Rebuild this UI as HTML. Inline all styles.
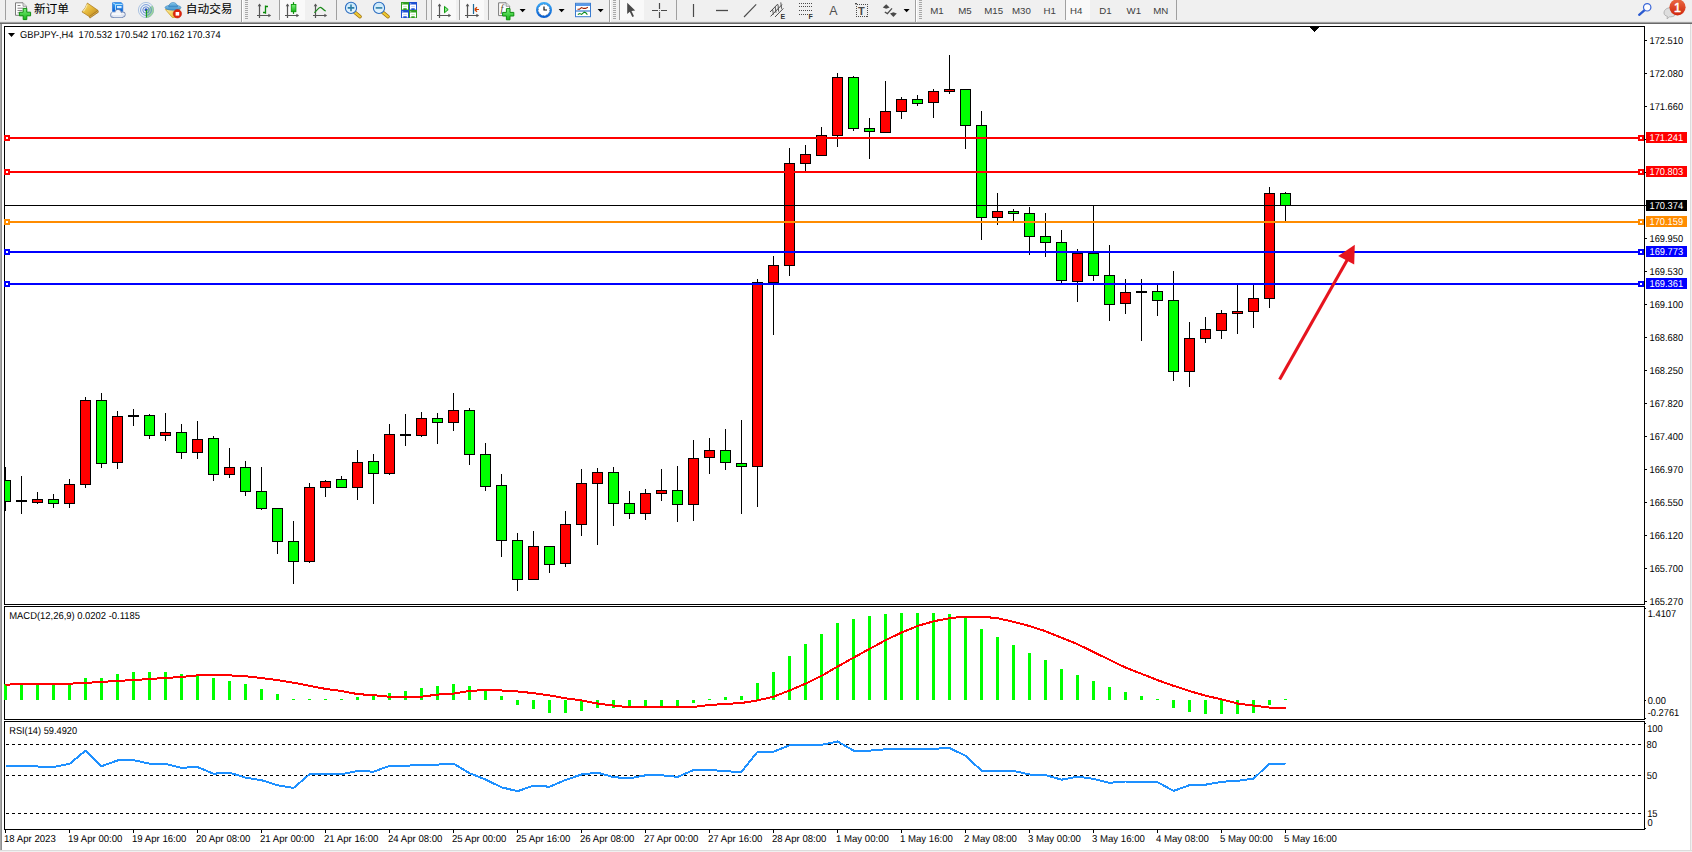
<!DOCTYPE html>
<html><head><meta charset="utf-8"><title>GBPJPY H4</title>
<style>html,body{margin:0;padding:0;background:#fff;overflow:hidden}svg{display:block}</style></head>
<body>
<svg width="1692" height="852" viewBox="0 0 1692 852">
<rect x="0" y="0" width="1692" height="852" fill="#fff"/>
<g shape-rendering="crispEdges">
<rect x="0" y="0" width="1692" height="21" fill="#f0f0f0"/>
<rect x="0" y="21" width="1692" height="1" fill="#e6e6e6"/>
<rect x="0" y="22" width="1692" height="1" fill="#a0a0a0"/>
<rect x="0" y="23" width="1692" height="1" fill="#696969"/>
<rect x="0" y="24" width="1" height="828" fill="#a8a8a8"/>
<rect x="1" y="24" width="1" height="828" fill="#8e8e8e"/>
<rect x="1690" y="24" width="1" height="828" fill="#dcdcdc"/>
<rect x="1691" y="24" width="1" height="828" fill="#f0f0f0"/>
<rect x="0" y="850" width="1692" height="1" fill="#dcdcdc"/>
<rect x="0" y="851" width="1692" height="1" fill="#f0f0f0"/>
</g>
<g shape-rendering="crispEdges">
<rect x="4" y="26" width="1641" height="1" fill="#000"/>
<rect x="4" y="604" width="1641" height="1" fill="#000"/>
<rect x="4" y="26" width="1" height="579" fill="#000"/>
<rect x="1644" y="26" width="1" height="579" fill="#000"/>
<rect x="4" y="606" width="1641" height="1" fill="#000"/>
<rect x="4" y="719" width="1641" height="1" fill="#000"/>
<rect x="4" y="606" width="1" height="114" fill="#000"/>
<rect x="1644" y="606" width="1" height="114" fill="#000"/>
<rect x="4" y="721" width="1641" height="1" fill="#000"/>
<rect x="4" y="829" width="1641" height="1" fill="#000"/>
<rect x="4" y="721" width="1" height="109" fill="#000"/>
<rect x="1644" y="721" width="1" height="109" fill="#000"/>
<clipPath id="cm"><rect x="5" y="27" width="1639" height="577"/></clipPath>
<g clip-path="url(#cm)">
<rect x="5" y="467" width="1" height="44" fill="#000"/>
<rect x="0" y="480" width="11" height="22" fill="#000"/>
<rect x="1" y="481" width="9" height="20" fill="#00ff00"/>
<rect x="21" y="476" width="1" height="38" fill="#000"/>
<rect x="16" y="500" width="11" height="2" fill="#000"/>
<rect x="37" y="492" width="1" height="12" fill="#000"/>
<rect x="32" y="499" width="11" height="4" fill="#000"/>
<rect x="33" y="500" width="9" height="2" fill="#ff0000"/>
<rect x="53" y="494" width="1" height="14" fill="#000"/>
<rect x="48" y="499" width="11" height="5" fill="#000"/>
<rect x="49" y="500" width="9" height="3" fill="#00ff00"/>
<rect x="69" y="479" width="1" height="29" fill="#000"/>
<rect x="64" y="484" width="11" height="20" fill="#000"/>
<rect x="65" y="485" width="9" height="18" fill="#ff0000"/>
<rect x="85" y="397" width="1" height="91" fill="#000"/>
<rect x="80" y="400" width="11" height="85" fill="#000"/>
<rect x="81" y="401" width="9" height="83" fill="#ff0000"/>
<rect x="101" y="393" width="1" height="75" fill="#000"/>
<rect x="96" y="400" width="11" height="64" fill="#000"/>
<rect x="97" y="401" width="9" height="62" fill="#00ff00"/>
<rect x="117" y="411" width="1" height="58" fill="#000"/>
<rect x="112" y="416" width="11" height="47" fill="#000"/>
<rect x="113" y="417" width="9" height="45" fill="#ff0000"/>
<rect x="133" y="409" width="1" height="17" fill="#000"/>
<rect x="128" y="415" width="11" height="2" fill="#000"/>
<rect x="149" y="414" width="1" height="25" fill="#000"/>
<rect x="144" y="415" width="11" height="21" fill="#000"/>
<rect x="145" y="416" width="9" height="19" fill="#00ff00"/>
<rect x="165" y="413" width="1" height="28" fill="#000"/>
<rect x="160" y="432" width="11" height="4" fill="#000"/>
<rect x="161" y="433" width="9" height="2" fill="#ff0000"/>
<rect x="181" y="424" width="1" height="35" fill="#000"/>
<rect x="176" y="432" width="11" height="21" fill="#000"/>
<rect x="177" y="433" width="9" height="19" fill="#00ff00"/>
<rect x="197" y="421" width="1" height="38" fill="#000"/>
<rect x="192" y="439" width="11" height="14" fill="#000"/>
<rect x="193" y="440" width="9" height="12" fill="#ff0000"/>
<rect x="213" y="436" width="1" height="45" fill="#000"/>
<rect x="208" y="438" width="11" height="37" fill="#000"/>
<rect x="209" y="439" width="9" height="35" fill="#00ff00"/>
<rect x="229" y="448" width="1" height="30" fill="#000"/>
<rect x="224" y="467" width="11" height="8" fill="#000"/>
<rect x="225" y="468" width="9" height="6" fill="#ff0000"/>
<rect x="245" y="461" width="1" height="35" fill="#000"/>
<rect x="240" y="467" width="11" height="25" fill="#000"/>
<rect x="241" y="468" width="9" height="23" fill="#00ff00"/>
<rect x="261" y="467" width="1" height="43" fill="#000"/>
<rect x="256" y="491" width="11" height="18" fill="#000"/>
<rect x="257" y="492" width="9" height="16" fill="#00ff00"/>
<rect x="277" y="508" width="1" height="46" fill="#000"/>
<rect x="272" y="508" width="11" height="34" fill="#000"/>
<rect x="273" y="509" width="9" height="32" fill="#00ff00"/>
<rect x="293" y="521" width="1" height="63" fill="#000"/>
<rect x="288" y="541" width="11" height="21" fill="#000"/>
<rect x="289" y="542" width="9" height="19" fill="#00ff00"/>
<rect x="309" y="483" width="1" height="80" fill="#000"/>
<rect x="304" y="487" width="11" height="75" fill="#000"/>
<rect x="305" y="488" width="9" height="73" fill="#ff0000"/>
<rect x="325" y="480" width="1" height="17" fill="#000"/>
<rect x="320" y="481" width="11" height="7" fill="#000"/>
<rect x="321" y="482" width="9" height="5" fill="#ff0000"/>
<rect x="341" y="476" width="1" height="12" fill="#000"/>
<rect x="336" y="479" width="11" height="9" fill="#000"/>
<rect x="337" y="480" width="9" height="7" fill="#00ff00"/>
<rect x="357" y="450" width="1" height="50" fill="#000"/>
<rect x="352" y="462" width="11" height="26" fill="#000"/>
<rect x="353" y="463" width="9" height="24" fill="#ff0000"/>
<rect x="373" y="454" width="1" height="50" fill="#000"/>
<rect x="368" y="461" width="11" height="13" fill="#000"/>
<rect x="369" y="462" width="9" height="11" fill="#00ff00"/>
<rect x="389" y="424" width="1" height="51" fill="#000"/>
<rect x="384" y="434" width="11" height="40" fill="#000"/>
<rect x="385" y="435" width="9" height="38" fill="#ff0000"/>
<rect x="405" y="414" width="1" height="32" fill="#000"/>
<rect x="400" y="434" width="11" height="2" fill="#000"/>
<rect x="421" y="412" width="1" height="25" fill="#000"/>
<rect x="416" y="418" width="11" height="18" fill="#000"/>
<rect x="417" y="419" width="9" height="16" fill="#ff0000"/>
<rect x="437" y="413" width="1" height="31" fill="#000"/>
<rect x="432" y="418" width="11" height="5" fill="#000"/>
<rect x="433" y="419" width="9" height="3" fill="#00ff00"/>
<rect x="453" y="393" width="1" height="38" fill="#000"/>
<rect x="448" y="410" width="11" height="13" fill="#000"/>
<rect x="449" y="411" width="9" height="11" fill="#ff0000"/>
<rect x="469" y="408" width="1" height="57" fill="#000"/>
<rect x="464" y="410" width="11" height="45" fill="#000"/>
<rect x="465" y="411" width="9" height="43" fill="#00ff00"/>
<rect x="485" y="443" width="1" height="48" fill="#000"/>
<rect x="480" y="454" width="11" height="33" fill="#000"/>
<rect x="481" y="455" width="9" height="31" fill="#00ff00"/>
<rect x="501" y="474" width="1" height="83" fill="#000"/>
<rect x="496" y="485" width="11" height="56" fill="#000"/>
<rect x="497" y="486" width="9" height="54" fill="#00ff00"/>
<rect x="517" y="533" width="1" height="58" fill="#000"/>
<rect x="512" y="540" width="11" height="40" fill="#000"/>
<rect x="513" y="541" width="9" height="38" fill="#00ff00"/>
<rect x="533" y="531" width="1" height="49" fill="#000"/>
<rect x="528" y="546" width="11" height="34" fill="#000"/>
<rect x="529" y="547" width="9" height="32" fill="#ff0000"/>
<rect x="549" y="546" width="1" height="27" fill="#000"/>
<rect x="544" y="546" width="11" height="19" fill="#000"/>
<rect x="545" y="547" width="9" height="17" fill="#00ff00"/>
<rect x="565" y="511" width="1" height="56" fill="#000"/>
<rect x="560" y="524" width="11" height="40" fill="#000"/>
<rect x="561" y="525" width="9" height="38" fill="#ff0000"/>
<rect x="581" y="469" width="1" height="67" fill="#000"/>
<rect x="576" y="483" width="11" height="42" fill="#000"/>
<rect x="577" y="484" width="9" height="40" fill="#ff0000"/>
<rect x="597" y="468" width="1" height="77" fill="#000"/>
<rect x="592" y="472" width="11" height="12" fill="#000"/>
<rect x="593" y="473" width="9" height="10" fill="#ff0000"/>
<rect x="613" y="467" width="1" height="59" fill="#000"/>
<rect x="608" y="472" width="11" height="32" fill="#000"/>
<rect x="609" y="473" width="9" height="30" fill="#00ff00"/>
<rect x="629" y="491" width="1" height="28" fill="#000"/>
<rect x="624" y="503" width="11" height="11" fill="#000"/>
<rect x="625" y="504" width="9" height="9" fill="#00ff00"/>
<rect x="645" y="489" width="1" height="31" fill="#000"/>
<rect x="640" y="493" width="11" height="21" fill="#000"/>
<rect x="641" y="494" width="9" height="19" fill="#ff0000"/>
<rect x="661" y="469" width="1" height="32" fill="#000"/>
<rect x="656" y="490" width="11" height="4" fill="#000"/>
<rect x="657" y="491" width="9" height="2" fill="#ff0000"/>
<rect x="677" y="466" width="1" height="56" fill="#000"/>
<rect x="672" y="490" width="11" height="15" fill="#000"/>
<rect x="673" y="491" width="9" height="13" fill="#00ff00"/>
<rect x="693" y="440" width="1" height="81" fill="#000"/>
<rect x="688" y="458" width="11" height="47" fill="#000"/>
<rect x="689" y="459" width="9" height="45" fill="#ff0000"/>
<rect x="709" y="438" width="1" height="36" fill="#000"/>
<rect x="704" y="450" width="11" height="8" fill="#000"/>
<rect x="705" y="451" width="9" height="6" fill="#ff0000"/>
<rect x="725" y="429" width="1" height="41" fill="#000"/>
<rect x="720" y="450" width="11" height="13" fill="#000"/>
<rect x="721" y="451" width="9" height="11" fill="#00ff00"/>
<rect x="741" y="420" width="1" height="94" fill="#000"/>
<rect x="736" y="463" width="11" height="4" fill="#000"/>
<rect x="737" y="464" width="9" height="2" fill="#00ff00"/>
<rect x="757" y="279" width="1" height="228" fill="#000"/>
<rect x="752" y="282" width="11" height="185" fill="#000"/>
<rect x="753" y="283" width="9" height="183" fill="#ff0000"/>
<rect x="773" y="256" width="1" height="79" fill="#000"/>
<rect x="768" y="265" width="11" height="18" fill="#000"/>
<rect x="769" y="266" width="9" height="16" fill="#ff0000"/>
<rect x="789" y="148" width="1" height="128" fill="#000"/>
<rect x="784" y="163" width="11" height="103" fill="#000"/>
<rect x="785" y="164" width="9" height="101" fill="#ff0000"/>
<rect x="805" y="145" width="1" height="26" fill="#000"/>
<rect x="800" y="154" width="11" height="10" fill="#000"/>
<rect x="801" y="155" width="9" height="8" fill="#ff0000"/>
<rect x="821" y="127" width="1" height="29" fill="#000"/>
<rect x="816" y="135" width="11" height="21" fill="#000"/>
<rect x="817" y="136" width="9" height="19" fill="#ff0000"/>
<rect x="837" y="73" width="1" height="74" fill="#000"/>
<rect x="832" y="77" width="11" height="59" fill="#000"/>
<rect x="833" y="78" width="9" height="57" fill="#ff0000"/>
<rect x="853" y="76" width="1" height="55" fill="#000"/>
<rect x="848" y="77" width="11" height="52" fill="#000"/>
<rect x="849" y="78" width="9" height="50" fill="#00ff00"/>
<rect x="869" y="118" width="1" height="41" fill="#000"/>
<rect x="864" y="128" width="11" height="4" fill="#000"/>
<rect x="865" y="129" width="9" height="2" fill="#00ff00"/>
<rect x="885" y="81" width="1" height="52" fill="#000"/>
<rect x="880" y="111" width="11" height="22" fill="#000"/>
<rect x="881" y="112" width="9" height="20" fill="#ff0000"/>
<rect x="901" y="97" width="1" height="22" fill="#000"/>
<rect x="896" y="99" width="11" height="13" fill="#000"/>
<rect x="897" y="100" width="9" height="11" fill="#ff0000"/>
<rect x="917" y="95" width="1" height="11" fill="#000"/>
<rect x="912" y="99" width="11" height="5" fill="#000"/>
<rect x="913" y="100" width="9" height="3" fill="#00ff00"/>
<rect x="933" y="89" width="1" height="29" fill="#000"/>
<rect x="928" y="91" width="11" height="12" fill="#000"/>
<rect x="929" y="92" width="9" height="10" fill="#ff0000"/>
<rect x="949" y="55" width="1" height="39" fill="#000"/>
<rect x="944" y="89" width="11" height="3" fill="#000"/>
<rect x="945" y="90" width="9" height="1" fill="#ff0000"/>
<rect x="965" y="89" width="1" height="60" fill="#000"/>
<rect x="960" y="89" width="11" height="37" fill="#000"/>
<rect x="961" y="90" width="9" height="35" fill="#00ff00"/>
<rect x="981" y="111" width="1" height="129" fill="#000"/>
<rect x="976" y="125" width="11" height="93" fill="#000"/>
<rect x="977" y="126" width="9" height="91" fill="#00ff00"/>
<rect x="997" y="193" width="1" height="32" fill="#000"/>
<rect x="992" y="211" width="11" height="7" fill="#000"/>
<rect x="993" y="212" width="9" height="5" fill="#ff0000"/>
<rect x="1013" y="209" width="1" height="12" fill="#000"/>
<rect x="1008" y="211" width="11" height="3" fill="#000"/>
<rect x="1009" y="212" width="9" height="1" fill="#00ff00"/>
<rect x="1029" y="207" width="1" height="48" fill="#000"/>
<rect x="1024" y="213" width="11" height="24" fill="#000"/>
<rect x="1025" y="214" width="9" height="22" fill="#00ff00"/>
<rect x="1045" y="213" width="1" height="44" fill="#000"/>
<rect x="1040" y="236" width="11" height="7" fill="#000"/>
<rect x="1041" y="237" width="9" height="5" fill="#00ff00"/>
<rect x="1061" y="230" width="1" height="53" fill="#000"/>
<rect x="1056" y="242" width="11" height="39" fill="#000"/>
<rect x="1057" y="243" width="9" height="37" fill="#00ff00"/>
<rect x="1077" y="249" width="1" height="53" fill="#000"/>
<rect x="1072" y="253" width="11" height="29" fill="#000"/>
<rect x="1073" y="254" width="9" height="27" fill="#ff0000"/>
<rect x="1093" y="205" width="1" height="76" fill="#000"/>
<rect x="1088" y="253" width="11" height="23" fill="#000"/>
<rect x="1089" y="254" width="9" height="21" fill="#00ff00"/>
<rect x="1109" y="245" width="1" height="76" fill="#000"/>
<rect x="1104" y="275" width="11" height="30" fill="#000"/>
<rect x="1105" y="276" width="9" height="28" fill="#00ff00"/>
<rect x="1125" y="279" width="1" height="35" fill="#000"/>
<rect x="1120" y="292" width="11" height="12" fill="#000"/>
<rect x="1121" y="293" width="9" height="10" fill="#ff0000"/>
<rect x="1141" y="279" width="1" height="62" fill="#000"/>
<rect x="1136" y="291" width="11" height="2" fill="#000"/>
<rect x="1157" y="285" width="1" height="31" fill="#000"/>
<rect x="1152" y="291" width="11" height="10" fill="#000"/>
<rect x="1153" y="292" width="9" height="8" fill="#00ff00"/>
<rect x="1173" y="271" width="1" height="110" fill="#000"/>
<rect x="1168" y="300" width="11" height="72" fill="#000"/>
<rect x="1169" y="301" width="9" height="70" fill="#00ff00"/>
<rect x="1189" y="322" width="1" height="65" fill="#000"/>
<rect x="1184" y="338" width="11" height="34" fill="#000"/>
<rect x="1185" y="339" width="9" height="32" fill="#ff0000"/>
<rect x="1205" y="317" width="1" height="26" fill="#000"/>
<rect x="1200" y="329" width="11" height="10" fill="#000"/>
<rect x="1201" y="330" width="9" height="8" fill="#ff0000"/>
<rect x="1221" y="310" width="1" height="29" fill="#000"/>
<rect x="1216" y="313" width="11" height="18" fill="#000"/>
<rect x="1217" y="314" width="9" height="16" fill="#ff0000"/>
<rect x="1237" y="285" width="1" height="49" fill="#000"/>
<rect x="1232" y="311" width="11" height="3" fill="#000"/>
<rect x="1233" y="312" width="9" height="1" fill="#ff0000"/>
<rect x="1253" y="285" width="1" height="43" fill="#000"/>
<rect x="1248" y="298" width="11" height="14" fill="#000"/>
<rect x="1249" y="299" width="9" height="12" fill="#ff0000"/>
<rect x="1269" y="187" width="1" height="121" fill="#000"/>
<rect x="1264" y="193" width="11" height="106" fill="#000"/>
<rect x="1265" y="194" width="9" height="104" fill="#ff0000"/>
<rect x="1285" y="192" width="1" height="29" fill="#000"/>
<rect x="1280" y="193" width="11" height="13" fill="#000"/>
<rect x="1281" y="194" width="9" height="11" fill="#00ff00"/>
</g>
<rect x="5" y="205" width="1639" height="1" fill="#000"/>
<rect x="5" y="137" width="1639" height="2" fill="#ff0000"/>
<rect x="4" y="135" width="6" height="6" fill="#ff0000"/>
<rect x="6" y="137" width="2" height="2" fill="#fff"/>
<rect x="1638" y="135" width="6" height="6" fill="#ff0000"/>
<rect x="1640" y="137" width="2" height="2" fill="#fff"/>
<rect x="5" y="171" width="1639" height="2" fill="#ff0000"/>
<rect x="4" y="169" width="6" height="6" fill="#ff0000"/>
<rect x="6" y="171" width="2" height="2" fill="#fff"/>
<rect x="1638" y="169" width="6" height="6" fill="#ff0000"/>
<rect x="1640" y="171" width="2" height="2" fill="#fff"/>
<rect x="5" y="221" width="1639" height="2" fill="#ff8c00"/>
<rect x="4" y="219" width="6" height="6" fill="#ff8c00"/>
<rect x="6" y="221" width="2" height="2" fill="#fff"/>
<rect x="1638" y="219" width="6" height="6" fill="#ff8c00"/>
<rect x="1640" y="221" width="2" height="2" fill="#fff"/>
<rect x="5" y="251" width="1639" height="2" fill="#0000ff"/>
<rect x="4" y="249" width="6" height="6" fill="#0000ff"/>
<rect x="6" y="251" width="2" height="2" fill="#fff"/>
<rect x="1638" y="249" width="6" height="6" fill="#0000ff"/>
<rect x="1640" y="251" width="2" height="2" fill="#fff"/>
<rect x="5" y="283" width="1639" height="2" fill="#0000ff"/>
<rect x="4" y="281" width="6" height="6" fill="#0000ff"/>
<rect x="6" y="283" width="2" height="2" fill="#fff"/>
<rect x="1638" y="281" width="6" height="6" fill="#0000ff"/>
<rect x="1640" y="283" width="2" height="2" fill="#fff"/>
<rect x="1645" y="40" width="2" height="1" fill="#000"/>
<rect x="1645" y="73" width="2" height="1" fill="#000"/>
<rect x="1645" y="106" width="2" height="1" fill="#000"/>
<rect x="1645" y="139" width="2" height="1" fill="#000"/>
<rect x="1645" y="172" width="2" height="1" fill="#000"/>
<rect x="1645" y="205" width="2" height="1" fill="#000"/>
<rect x="1645" y="238" width="2" height="1" fill="#000"/>
<rect x="1645" y="271" width="2" height="1" fill="#000"/>
<rect x="1645" y="304" width="2" height="1" fill="#000"/>
<rect x="1645" y="337" width="2" height="1" fill="#000"/>
<rect x="1645" y="370" width="2" height="1" fill="#000"/>
<rect x="1645" y="403" width="2" height="1" fill="#000"/>
<rect x="1645" y="436" width="2" height="1" fill="#000"/>
<rect x="1645" y="469" width="2" height="1" fill="#000"/>
<rect x="1645" y="502" width="2" height="1" fill="#000"/>
<rect x="1645" y="535" width="2" height="1" fill="#000"/>
<rect x="1645" y="568" width="2" height="1" fill="#000"/>
<rect x="1645" y="601" width="2" height="1" fill="#000"/>
<rect x="1645" y="608" width="1" height="1" fill="#000"/>
<rect x="1645" y="700" width="1" height="1" fill="#000"/>
<rect x="1645" y="718" width="1" height="1" fill="#000"/>
<rect x="1645" y="723" width="1" height="1" fill="#000"/>
<rect x="1645" y="828" width="1" height="1" fill="#000"/>
<rect x="1646" y="132" width="41" height="11" fill="#ff0000"/>
<rect x="1646" y="166" width="41" height="11" fill="#ff0000"/>
<rect x="1646" y="216" width="41" height="11" fill="#ff8c00"/>
<rect x="1646" y="246" width="41" height="11" fill="#0000ff"/>
<rect x="1646" y="278" width="41" height="11" fill="#0000ff"/>
<rect x="1646" y="200" width="41" height="11" fill="#000"/>
<rect x="4" y="684" width="3" height="16" fill="#00ff00"/>
<rect x="20" y="684" width="3" height="16" fill="#00ff00"/>
<rect x="36" y="685" width="3" height="15" fill="#00ff00"/>
<rect x="52" y="685" width="3" height="15" fill="#00ff00"/>
<rect x="68" y="685" width="3" height="15" fill="#00ff00"/>
<rect x="84" y="678" width="3" height="22" fill="#00ff00"/>
<rect x="100" y="678" width="3" height="22" fill="#00ff00"/>
<rect x="116" y="674" width="3" height="26" fill="#00ff00"/>
<rect x="132" y="672" width="3" height="28" fill="#00ff00"/>
<rect x="148" y="672" width="3" height="28" fill="#00ff00"/>
<rect x="164" y="672" width="3" height="28" fill="#00ff00"/>
<rect x="180" y="674" width="3" height="26" fill="#00ff00"/>
<rect x="196" y="676" width="3" height="24" fill="#00ff00"/>
<rect x="212" y="678" width="3" height="22" fill="#00ff00"/>
<rect x="228" y="681" width="3" height="19" fill="#00ff00"/>
<rect x="244" y="684" width="3" height="16" fill="#00ff00"/>
<rect x="260" y="689" width="3" height="11" fill="#00ff00"/>
<rect x="276" y="694" width="3" height="6" fill="#00ff00"/>
<rect x="292" y="699" width="3" height="1" fill="#00ff00"/>
<rect x="308" y="699" width="3" height="1" fill="#00ff00"/>
<rect x="324" y="699" width="3" height="1" fill="#00ff00"/>
<rect x="340" y="699" width="3" height="1" fill="#00ff00"/>
<rect x="356" y="697" width="3" height="3" fill="#00ff00"/>
<rect x="372" y="696" width="3" height="4" fill="#00ff00"/>
<rect x="388" y="693" width="3" height="7" fill="#00ff00"/>
<rect x="404" y="691" width="3" height="9" fill="#00ff00"/>
<rect x="420" y="688" width="3" height="12" fill="#00ff00"/>
<rect x="436" y="686" width="3" height="14" fill="#00ff00"/>
<rect x="452" y="684" width="3" height="16" fill="#00ff00"/>
<rect x="468" y="686" width="3" height="14" fill="#00ff00"/>
<rect x="484" y="689" width="3" height="11" fill="#00ff00"/>
<rect x="500" y="696" width="3" height="4" fill="#00ff00"/>
<rect x="516" y="700" width="3" height="5" fill="#00ff00"/>
<rect x="532" y="700" width="3" height="9" fill="#00ff00"/>
<rect x="548" y="700" width="3" height="13" fill="#00ff00"/>
<rect x="564" y="700" width="3" height="13" fill="#00ff00"/>
<rect x="580" y="700" width="3" height="11" fill="#00ff00"/>
<rect x="596" y="700" width="3" height="8" fill="#00ff00"/>
<rect x="612" y="700" width="3" height="8" fill="#00ff00"/>
<rect x="628" y="700" width="3" height="7" fill="#00ff00"/>
<rect x="644" y="700" width="3" height="7" fill="#00ff00"/>
<rect x="660" y="700" width="3" height="6" fill="#00ff00"/>
<rect x="676" y="700" width="3" height="6" fill="#00ff00"/>
<rect x="692" y="700" width="3" height="3" fill="#00ff00"/>
<rect x="708" y="699" width="3" height="1" fill="#00ff00"/>
<rect x="724" y="697" width="3" height="3" fill="#00ff00"/>
<rect x="740" y="696" width="3" height="4" fill="#00ff00"/>
<rect x="756" y="683" width="3" height="17" fill="#00ff00"/>
<rect x="772" y="672" width="3" height="28" fill="#00ff00"/>
<rect x="788" y="656" width="3" height="44" fill="#00ff00"/>
<rect x="804" y="644" width="3" height="56" fill="#00ff00"/>
<rect x="820" y="634" width="3" height="66" fill="#00ff00"/>
<rect x="836" y="623" width="3" height="77" fill="#00ff00"/>
<rect x="852" y="619" width="3" height="81" fill="#00ff00"/>
<rect x="868" y="616" width="3" height="84" fill="#00ff00"/>
<rect x="884" y="614" width="3" height="86" fill="#00ff00"/>
<rect x="900" y="613" width="3" height="87" fill="#00ff00"/>
<rect x="916" y="613" width="3" height="87" fill="#00ff00"/>
<rect x="932" y="613" width="3" height="87" fill="#00ff00"/>
<rect x="948" y="614" width="3" height="86" fill="#00ff00"/>
<rect x="964" y="618" width="3" height="82" fill="#00ff00"/>
<rect x="980" y="629" width="3" height="71" fill="#00ff00"/>
<rect x="996" y="637" width="3" height="63" fill="#00ff00"/>
<rect x="1012" y="645" width="3" height="55" fill="#00ff00"/>
<rect x="1028" y="653" width="3" height="47" fill="#00ff00"/>
<rect x="1044" y="660" width="3" height="40" fill="#00ff00"/>
<rect x="1060" y="669" width="3" height="31" fill="#00ff00"/>
<rect x="1076" y="675" width="3" height="25" fill="#00ff00"/>
<rect x="1092" y="681" width="3" height="19" fill="#00ff00"/>
<rect x="1108" y="687" width="3" height="13" fill="#00ff00"/>
<rect x="1124" y="692" width="3" height="8" fill="#00ff00"/>
<rect x="1140" y="696" width="3" height="4" fill="#00ff00"/>
<rect x="1156" y="699" width="3" height="1" fill="#00ff00"/>
<rect x="1172" y="700" width="3" height="8" fill="#00ff00"/>
<rect x="1188" y="700" width="3" height="12" fill="#00ff00"/>
<rect x="1204" y="700" width="3" height="14" fill="#00ff00"/>
<rect x="1220" y="700" width="3" height="14" fill="#00ff00"/>
<rect x="1236" y="700" width="3" height="14" fill="#00ff00"/>
<rect x="1252" y="700" width="3" height="13" fill="#00ff00"/>
<rect x="1268" y="700" width="3" height="5" fill="#00ff00"/>
<rect x="1284" y="699" width="3" height="1" fill="#00ff00"/>
<polyline points="5.5,684.8 21.5,683.7 37.5,683.7 53.5,683.7 69.5,683.7 85.5,682.9 101.5,681.9 117.5,680.9 133.5,680.1 149.5,679.0 165.5,678.0 181.5,677.0 197.5,675.4 213.5,674.9 229.5,675.4 245.5,676.2 261.5,678.0 277.5,680.1 293.5,682.7 309.5,685.8 325.5,688.9 341.5,691.0 357.5,694.1 373.5,695.2 389.5,696.7 405.5,696.7 421.5,696.7 437.5,694.6 453.5,693.6 469.5,691.0 485.5,690.0 501.5,690.5 517.5,691.5 533.5,693.1 549.5,695.4 565.5,698.3 581.5,700.4 597.5,703.5 613.5,705.6 629.5,707.4 645.5,707.4 661.5,707.4 677.5,707.4 693.5,706.9 709.5,705.0 725.5,704.0 741.5,703.0 757.5,700.4 773.5,696.7 789.5,690.5 805.5,683.7 821.5,675.9 837.5,666.6 853.5,657.7 869.5,648.9 885.5,640.3 901.5,632.5 917.5,626.0 933.5,621.3 949.5,618.2 965.5,616.6 981.5,616.6 997.5,618.2 1013.5,621.8 1029.5,626.0 1045.5,631.2 1061.5,637.7 1077.5,644.2 1093.5,652.0 1109.5,659.8 1125.5,667.6 1141.5,673.8 1157.5,680.1 1173.5,685.8 1189.5,691.0 1205.5,695.7 1221.5,699.3 1237.5,703.5 1253.5,705.6 1269.5,707.6 1285.5,707.6" fill="none" stroke="#ff0000" stroke-width="2" stroke-linejoin="round"/>
<line x1="6" y1="744.5" x2="1644" y2="744.5" stroke="#000" stroke-width="1" stroke-dasharray="3 3"/>
<line x1="6" y1="775.5" x2="1644" y2="775.5" stroke="#000" stroke-width="1" stroke-dasharray="3 3"/>
<line x1="6" y1="813.5" x2="1644" y2="813.5" stroke="#000" stroke-width="1" stroke-dasharray="3 3"/>
<polyline points="5.5,765.9 21.5,765.9 37.5,766.5 53.5,767.0 69.5,763.9 85.5,750.6 101.5,766.2 117.5,760.5 133.5,760.2 149.5,763.6 165.5,763.9 181.5,767.8 197.5,767.0 213.5,773.7 229.5,772.7 245.5,777.6 261.5,780.2 277.5,785.2 293.5,788.0 309.5,774.3 325.5,774.3 341.5,774.3 357.5,770.9 373.5,771.7 389.5,765.9 405.5,765.9 421.5,764.6 437.5,764.6 453.5,763.6 469.5,773.2 485.5,779.5 501.5,787.3 517.5,791.2 533.5,785.7 549.5,786.7 565.5,780.0 581.5,774.5 597.5,772.7 613.5,777.1 629.5,778.4 645.5,775.3 661.5,775.3 677.5,776.9 693.5,770.1 709.5,769.8 725.5,771.4 741.5,771.7 757.5,751.9 773.5,751.7 789.5,745.4 805.5,745.2 821.5,744.9 837.5,741.5 853.5,750.6 869.5,750.6 885.5,749.3 901.5,748.8 917.5,748.8 933.5,748.8 949.5,748.0 965.5,755.8 981.5,770.6 997.5,770.6 1013.5,770.9 1029.5,774.5 1045.5,775.0 1061.5,779.7 1077.5,776.6 1093.5,778.9 1109.5,782.8 1125.5,781.5 1141.5,781.8 1157.5,782.1 1173.5,790.9 1189.5,785.2 1205.5,784.7 1221.5,781.8 1237.5,780.8 1253.5,778.7 1269.5,763.6 1285.5,764.4" fill="none" stroke="#1e90ff" stroke-width="2" stroke-linejoin="round"/>
<rect x="5" y="830" width="1" height="3" fill="#000"/>
<rect x="69" y="830" width="1" height="3" fill="#000"/>
<rect x="133" y="830" width="1" height="3" fill="#000"/>
<rect x="197" y="830" width="1" height="3" fill="#000"/>
<rect x="261" y="830" width="1" height="3" fill="#000"/>
<rect x="325" y="830" width="1" height="3" fill="#000"/>
<rect x="389" y="830" width="1" height="3" fill="#000"/>
<rect x="453" y="830" width="1" height="3" fill="#000"/>
<rect x="517" y="830" width="1" height="3" fill="#000"/>
<rect x="581" y="830" width="1" height="3" fill="#000"/>
<rect x="645" y="830" width="1" height="3" fill="#000"/>
<rect x="709" y="830" width="1" height="3" fill="#000"/>
<rect x="773" y="830" width="1" height="3" fill="#000"/>
<rect x="837" y="830" width="1" height="3" fill="#000"/>
<rect x="901" y="830" width="1" height="3" fill="#000"/>
<rect x="965" y="830" width="1" height="3" fill="#000"/>
<rect x="1029" y="830" width="1" height="3" fill="#000"/>
<rect x="1093" y="830" width="1" height="3" fill="#000"/>
<rect x="1157" y="830" width="1" height="3" fill="#000"/>
<rect x="1221" y="830" width="1" height="3" fill="#000"/>
<rect x="1285" y="830" width="1" height="3" fill="#000"/>
<polygon points="1309.5,27 1319.5,27 1314.5,32" fill="#000"/>
</g>
<polygon points="8,33 15,33 11.5,37" fill="#000"/>
<line x1="1279.6" y1="379.6" x2="1348.3" y2="258" stroke="#e6141e" stroke-width="3.1"/>
<polygon points="1354.8,244.8 1338.2,255.9 1354.2,264.6" fill="#e6141e"/>
<text transform="translate(20,37.8) scale(0.9290,1)" font-size="10.0" text-rendering="geometricPrecision" fill="#000" font-family="Liberation Sans, sans-serif" >GBPJPY-,H4&#160;&#160;170.532 170.542 170.162 170.374</text>
<text transform="translate(9.2,619) scale(0.9420,1)" font-size="10.0" text-rendering="geometricPrecision" fill="#000" font-family="Liberation Sans, sans-serif" >MACD(12,26,9) 0.0202 -0.1185</text>
<text transform="translate(9.2,734) scale(0.9250,1)" font-size="10.0" text-rendering="geometricPrecision" fill="#000" font-family="Liberation Sans, sans-serif" >RSI(14) 59.4920</text>
<text transform="translate(1649.5,43.9) scale(0.9300,1)" font-size="10.0" text-rendering="geometricPrecision" fill="#000" font-family="Liberation Sans, sans-serif" >172.510</text>
<text transform="translate(1649.5,76.9) scale(0.9300,1)" font-size="10.0" text-rendering="geometricPrecision" fill="#000" font-family="Liberation Sans, sans-serif" >172.080</text>
<text transform="translate(1649.5,109.9) scale(0.9300,1)" font-size="10.0" text-rendering="geometricPrecision" fill="#000" font-family="Liberation Sans, sans-serif" >171.660</text>
<text transform="translate(1649.5,241.9) scale(0.9300,1)" font-size="10.0" text-rendering="geometricPrecision" fill="#000" font-family="Liberation Sans, sans-serif" >169.950</text>
<text transform="translate(1649.5,274.9) scale(0.9300,1)" font-size="10.0" text-rendering="geometricPrecision" fill="#000" font-family="Liberation Sans, sans-serif" >169.530</text>
<text transform="translate(1649.5,307.9) scale(0.9300,1)" font-size="10.0" text-rendering="geometricPrecision" fill="#000" font-family="Liberation Sans, sans-serif" >169.100</text>
<text transform="translate(1649.5,340.9) scale(0.9300,1)" font-size="10.0" text-rendering="geometricPrecision" fill="#000" font-family="Liberation Sans, sans-serif" >168.680</text>
<text transform="translate(1649.5,373.9) scale(0.9300,1)" font-size="10.0" text-rendering="geometricPrecision" fill="#000" font-family="Liberation Sans, sans-serif" >168.250</text>
<text transform="translate(1649.5,406.9) scale(0.9300,1)" font-size="10.0" text-rendering="geometricPrecision" fill="#000" font-family="Liberation Sans, sans-serif" >167.820</text>
<text transform="translate(1649.5,439.9) scale(0.9300,1)" font-size="10.0" text-rendering="geometricPrecision" fill="#000" font-family="Liberation Sans, sans-serif" >167.400</text>
<text transform="translate(1649.5,472.9) scale(0.9300,1)" font-size="10.0" text-rendering="geometricPrecision" fill="#000" font-family="Liberation Sans, sans-serif" >166.970</text>
<text transform="translate(1649.5,505.9) scale(0.9300,1)" font-size="10.0" text-rendering="geometricPrecision" fill="#000" font-family="Liberation Sans, sans-serif" >166.550</text>
<text transform="translate(1649.5,538.9) scale(0.9300,1)" font-size="10.0" text-rendering="geometricPrecision" fill="#000" font-family="Liberation Sans, sans-serif" >166.120</text>
<text transform="translate(1649.5,571.9) scale(0.9300,1)" font-size="10.0" text-rendering="geometricPrecision" fill="#000" font-family="Liberation Sans, sans-serif" >165.700</text>
<text transform="translate(1649.5,604.9) scale(0.9300,1)" font-size="10.0" text-rendering="geometricPrecision" fill="#000" font-family="Liberation Sans, sans-serif" >165.270</text>
<text transform="translate(1649.5,140.8) scale(0.9300,1)" font-size="10.0" text-rendering="geometricPrecision" fill="#fff" font-family="Liberation Sans, sans-serif" >171.241</text>
<text transform="translate(1649.5,174.8) scale(0.9300,1)" font-size="10.0" text-rendering="geometricPrecision" fill="#fff" font-family="Liberation Sans, sans-serif" >170.803</text>
<text transform="translate(1649.5,224.8) scale(0.9300,1)" font-size="10.0" text-rendering="geometricPrecision" fill="#fff" font-family="Liberation Sans, sans-serif" >170.159</text>
<text transform="translate(1649.5,254.8) scale(0.9300,1)" font-size="10.0" text-rendering="geometricPrecision" fill="#fff" font-family="Liberation Sans, sans-serif" >169.773</text>
<text transform="translate(1649.5,286.8) scale(0.9300,1)" font-size="10.0" text-rendering="geometricPrecision" fill="#fff" font-family="Liberation Sans, sans-serif" >169.361</text>
<text transform="translate(1649.5,208.8) scale(0.9300,1)" font-size="10.0" text-rendering="geometricPrecision" fill="#fff" font-family="Liberation Sans, sans-serif" >170.374</text>
<text transform="translate(1647.7,616.9) scale(0.9300,1)" font-size="10.0" text-rendering="geometricPrecision" fill="#000" font-family="Liberation Sans, sans-serif" >1.4107</text>
<text transform="translate(1647.7,703.6) scale(0.9300,1)" font-size="10.0" text-rendering="geometricPrecision" fill="#000" font-family="Liberation Sans, sans-serif" >0.00</text>
<text transform="translate(1647.7,715.9) scale(0.9300,1)" font-size="10.0" text-rendering="geometricPrecision" fill="#000" font-family="Liberation Sans, sans-serif" >-0.2761</text>
<text transform="translate(1647.2,731.8) scale(0.9300,1)" font-size="10.0" text-rendering="geometricPrecision" fill="#000" font-family="Liberation Sans, sans-serif" >100</text>
<text transform="translate(1646.6,748) scale(0.9300,1)" font-size="10.0" text-rendering="geometricPrecision" fill="#000" font-family="Liberation Sans, sans-serif" >80</text>
<text transform="translate(1646.8,778.9) scale(0.9300,1)" font-size="10.0" text-rendering="geometricPrecision" fill="#000" font-family="Liberation Sans, sans-serif" >50</text>
<text transform="translate(1647.2,816.9) scale(0.9300,1)" font-size="10.0" text-rendering="geometricPrecision" fill="#000" font-family="Liberation Sans, sans-serif" >15</text>
<text transform="translate(1647.5,826) scale(0.9300,1)" font-size="10.0" text-rendering="geometricPrecision" fill="#000" font-family="Liberation Sans, sans-serif" >0</text>
<text transform="translate(4,841.8) scale(0.9600,1)" font-size="10.0" text-rendering="geometricPrecision" fill="#000" font-family="Liberation Sans, sans-serif" >18 Apr 2023</text>
<text transform="translate(68,841.8) scale(0.9600,1)" font-size="10.0" text-rendering="geometricPrecision" fill="#000" font-family="Liberation Sans, sans-serif" >19 Apr 00:00</text>
<text transform="translate(132,841.8) scale(0.9600,1)" font-size="10.0" text-rendering="geometricPrecision" fill="#000" font-family="Liberation Sans, sans-serif" >19 Apr 16:00</text>
<text transform="translate(196,841.8) scale(0.9600,1)" font-size="10.0" text-rendering="geometricPrecision" fill="#000" font-family="Liberation Sans, sans-serif" >20 Apr 08:00</text>
<text transform="translate(260,841.8) scale(0.9600,1)" font-size="10.0" text-rendering="geometricPrecision" fill="#000" font-family="Liberation Sans, sans-serif" >21 Apr 00:00</text>
<text transform="translate(324,841.8) scale(0.9600,1)" font-size="10.0" text-rendering="geometricPrecision" fill="#000" font-family="Liberation Sans, sans-serif" >21 Apr 16:00</text>
<text transform="translate(388,841.8) scale(0.9600,1)" font-size="10.0" text-rendering="geometricPrecision" fill="#000" font-family="Liberation Sans, sans-serif" >24 Apr 08:00</text>
<text transform="translate(452,841.8) scale(0.9600,1)" font-size="10.0" text-rendering="geometricPrecision" fill="#000" font-family="Liberation Sans, sans-serif" >25 Apr 00:00</text>
<text transform="translate(516,841.8) scale(0.9600,1)" font-size="10.0" text-rendering="geometricPrecision" fill="#000" font-family="Liberation Sans, sans-serif" >25 Apr 16:00</text>
<text transform="translate(580,841.8) scale(0.9600,1)" font-size="10.0" text-rendering="geometricPrecision" fill="#000" font-family="Liberation Sans, sans-serif" >26 Apr 08:00</text>
<text transform="translate(644,841.8) scale(0.9600,1)" font-size="10.0" text-rendering="geometricPrecision" fill="#000" font-family="Liberation Sans, sans-serif" >27 Apr 00:00</text>
<text transform="translate(708,841.8) scale(0.9600,1)" font-size="10.0" text-rendering="geometricPrecision" fill="#000" font-family="Liberation Sans, sans-serif" >27 Apr 16:00</text>
<text transform="translate(772,841.8) scale(0.9600,1)" font-size="10.0" text-rendering="geometricPrecision" fill="#000" font-family="Liberation Sans, sans-serif" >28 Apr 08:00</text>
<text transform="translate(836,841.8) scale(0.9600,1)" font-size="10.0" text-rendering="geometricPrecision" fill="#000" font-family="Liberation Sans, sans-serif" >1 May 00:00</text>
<text transform="translate(900,841.8) scale(0.9600,1)" font-size="10.0" text-rendering="geometricPrecision" fill="#000" font-family="Liberation Sans, sans-serif" >1 May 16:00</text>
<text transform="translate(964,841.8) scale(0.9600,1)" font-size="10.0" text-rendering="geometricPrecision" fill="#000" font-family="Liberation Sans, sans-serif" >2 May 08:00</text>
<text transform="translate(1028,841.8) scale(0.9600,1)" font-size="10.0" text-rendering="geometricPrecision" fill="#000" font-family="Liberation Sans, sans-serif" >3 May 00:00</text>
<text transform="translate(1092,841.8) scale(0.9600,1)" font-size="10.0" text-rendering="geometricPrecision" fill="#000" font-family="Liberation Sans, sans-serif" >3 May 16:00</text>
<text transform="translate(1156,841.8) scale(0.9600,1)" font-size="10.0" text-rendering="geometricPrecision" fill="#000" font-family="Liberation Sans, sans-serif" >4 May 08:00</text>
<text transform="translate(1220,841.8) scale(0.9600,1)" font-size="10.0" text-rendering="geometricPrecision" fill="#000" font-family="Liberation Sans, sans-serif" >5 May 00:00</text>
<text transform="translate(1284,841.8) scale(0.9600,1)" font-size="10.0" text-rendering="geometricPrecision" fill="#000" font-family="Liberation Sans, sans-serif" >5 May 16:00</text>
<defs>
<linearGradient id="gGreen" x1="0" y1="0" x2="0" y2="1"><stop offset="0" stop-color="#7ef07e"/><stop offset="1" stop-color="#14b414"/></linearGradient>
<linearGradient id="gGold" x1="0" y1="0" x2="1" y2="1"><stop offset="0" stop-color="#f7e07a"/><stop offset="0.5" stop-color="#e5b83a"/><stop offset="1" stop-color="#b8801c"/></linearGradient>
<linearGradient id="gBlue" x1="0" y1="0" x2="0" y2="1"><stop offset="0" stop-color="#3aa8f5"/><stop offset="1" stop-color="#0b5fd0"/></linearGradient>
<linearGradient id="gRed" x1="0" y1="0" x2="0" y2="1"><stop offset="0" stop-color="#ea6a44"/><stop offset="1" stop-color="#d0260c"/></linearGradient>
<linearGradient id="gLens" x1="0" y1="0" x2="0" y2="1"><stop offset="0" stop-color="#c4e6fa"/><stop offset="1" stop-color="#eaf6fd"/></linearGradient>
<linearGradient id="gCloud" x1="0" y1="0" x2="0" y2="1"><stop offset="0" stop-color="#ffffff"/><stop offset="1" stop-color="#c9d3e6"/></linearGradient>
<linearGradient id="gHat" x1="0" y1="0" x2="0" y2="1"><stop offset="0" stop-color="#8fd0f0"/><stop offset="1" stop-color="#3a8cc8"/></linearGradient>
<linearGradient id="gFace" x1="0" y1="0" x2="1" y2="1"><stop offset="0" stop-color="#fff0a0"/><stop offset="1" stop-color="#e8b020"/></linearGradient>
</defs>
<g shape-rendering="crispEdges">
<rect x="5" y="0" width="1" height="20" fill="#a0a0a0"/>
<rect x="241" y="0" width="1" height="22" fill="#a0a0a0"/>
<rect x="242" y="0" width="1" height="22" fill="#ffffff"/>
<rect x="245" y="0" width="3" height="1" fill="#a8a8a8"/>
<rect x="245" y="2" width="3" height="1" fill="#a8a8a8"/>
<rect x="245" y="4" width="3" height="1" fill="#a8a8a8"/>
<rect x="245" y="6" width="3" height="1" fill="#a8a8a8"/>
<rect x="245" y="8" width="3" height="1" fill="#a8a8a8"/>
<rect x="245" y="10" width="3" height="1" fill="#a8a8a8"/>
<rect x="245" y="12" width="3" height="1" fill="#a8a8a8"/>
<rect x="245" y="14" width="3" height="1" fill="#a8a8a8"/>
<rect x="245" y="16" width="3" height="1" fill="#a8a8a8"/>
<rect x="245" y="18" width="3" height="1" fill="#a8a8a8"/>
<rect x="279" y="0" width="1" height="20" fill="#a0a0a0"/>
<rect x="280" y="0" width="25" height="20" fill="#f9f9f9"/>
<rect x="336" y="0" width="1" height="20" fill="#a0a0a0"/>
<rect x="426" y="0" width="1" height="20" fill="#a0a0a0"/>
<rect x="431" y="0" width="1" height="20" fill="#a0a0a0"/>
<rect x="432" y="0" width="24" height="20" fill="#f9f9f9"/>
<rect x="459" y="0" width="1" height="20" fill="#a0a0a0"/>
<rect x="460" y="0" width="24" height="20" fill="#f9f9f9"/>
<rect x="488" y="0" width="1" height="20" fill="#a0a0a0"/>
<rect x="609" y="0" width="1" height="22" fill="#a0a0a0"/>
<rect x="610" y="0" width="1" height="22" fill="#ffffff"/>
<rect x="613" y="0" width="3" height="1" fill="#a8a8a8"/>
<rect x="613" y="2" width="3" height="1" fill="#a8a8a8"/>
<rect x="613" y="4" width="3" height="1" fill="#a8a8a8"/>
<rect x="613" y="6" width="3" height="1" fill="#a8a8a8"/>
<rect x="613" y="8" width="3" height="1" fill="#a8a8a8"/>
<rect x="613" y="10" width="3" height="1" fill="#a8a8a8"/>
<rect x="613" y="12" width="3" height="1" fill="#a8a8a8"/>
<rect x="613" y="14" width="3" height="1" fill="#a8a8a8"/>
<rect x="613" y="16" width="3" height="1" fill="#a8a8a8"/>
<rect x="613" y="18" width="3" height="1" fill="#a8a8a8"/>
<rect x="619" y="0" width="1" height="20" fill="#a0a0a0"/>
<rect x="620" y="0" width="24" height="20" fill="#f9f9f9"/>
<rect x="676" y="0" width="1" height="20" fill="#a0a0a0"/>
<rect x="915" y="0" width="1" height="22" fill="#a0a0a0"/>
<rect x="916" y="0" width="1" height="22" fill="#ffffff"/>
<rect x="919" y="0" width="3" height="1" fill="#a8a8a8"/>
<rect x="919" y="2" width="3" height="1" fill="#a8a8a8"/>
<rect x="919" y="4" width="3" height="1" fill="#a8a8a8"/>
<rect x="919" y="6" width="3" height="1" fill="#a8a8a8"/>
<rect x="919" y="8" width="3" height="1" fill="#a8a8a8"/>
<rect x="919" y="10" width="3" height="1" fill="#a8a8a8"/>
<rect x="919" y="12" width="3" height="1" fill="#a8a8a8"/>
<rect x="919" y="14" width="3" height="1" fill="#a8a8a8"/>
<rect x="919" y="16" width="3" height="1" fill="#a8a8a8"/>
<rect x="919" y="18" width="3" height="1" fill="#a8a8a8"/>
<rect x="1065" y="0" width="1" height="20" fill="#a0a0a0"/>
<rect x="1066" y="0" width="24" height="20" fill="#f9f9f9"/>
<rect x="1176" y="0" width="1" height="20" fill="#a0a0a0"/>
</g>
<path d="M15.5,2.8 h7.5 l3.5,3.5 v9.0 h-11 z" fill="#fdfdfd" stroke="#7c7c7c" stroke-width="1"/>
<path d="M23.0,2.8 v3.5 h3.5" fill="#e4e4e4" stroke="#8a8a8a" stroke-width="0.8"/>
<path d="M17.5,5.5 h3 M17.5,8.2 h6 M17.5,10.5 h5 M17.5,12.8 h4" stroke="#888" stroke-width="1" fill="none"/>
<polygon points="23.2,8.4 26.8,8.4 26.8,12.2 30.6,12.2 30.6,15.8 26.8,15.8 26.8,19.6 23.2,19.6 23.2,15.8 19.4,15.8 19.4,12.2 23.2,12.2" fill="url(#gGreen)" stroke="#0f8f0f" stroke-width="1"/>
<text x="33.9" y="13.1" font-size="11.7" fill="#000" font-family="Liberation Sans, Noto Sans CJK SC, sans-serif" stroke="#000" stroke-width="0.08">新订单</text>
<polygon points="97.9,10.2 98.4,12.2 89.9,18.1 89.2,16.4" fill="#c08a22" stroke="#8c5e0e" stroke-width="0.6"/>
<path d="M89.6,17.2 L98.1,11.3" fill="none" stroke="#f0d070" stroke-width="0.5"/>
<path d="M87.4,3.1 L97.9,10.3 L89.3,16.6 L82,11.9 Q85.6,8.4 87.4,3.1 z" fill="url(#gGold)" stroke="#a8761a" stroke-width="0.7"/>
<path d="M87.3,4.4 Q86,8.2 83.4,11.4" stroke="#fff6c0" stroke-width="1.1" opacity="0.8" fill="none"/>
<path d="M112.5,2.5 h8.5 l1.8,1.5 v7.5 h-10.3 z" fill="url(#gBlue)" stroke="#1a6ad8" stroke-width="0.6"/>
<path d="M112.5,2.5 l3,2 v7 M115.5,4.5 h7" stroke="#bfe4ff" stroke-width="0.9" fill="none"/>
<rect x="117" y="6" width="4.6" height="2.2" fill="#d6ecff"/>
<circle cx="113.1" cy="14.9" r="2.9" fill="#7388b4"/>
<circle cx="118" cy="12.6" r="3.4" fill="#7388b4"/>
<circle cx="122.6" cy="14.6" r="3.0" fill="#7388b4"/>
<rect x="112.6" y="14" width="10.6" height="4" rx="1.2" fill="#7388b4"/>
<circle cx="113.1" cy="14.9" r="2.0999999999999996" fill="url(#gCloud)"/>
<circle cx="118" cy="12.6" r="2.5999999999999996" fill="url(#gCloud)"/>
<circle cx="122.6" cy="14.6" r="2.2" fill="url(#gCloud)"/>
<rect x="113" y="13.6" width="9.8" height="3.6" rx="1" fill="#e4e9f4"/>
<rect x="112" y="12.4" width="9" height="2.6" fill="#f6f8fc"/>
<circle cx="146" cy="10" r="7.6" fill="#eef3f6" stroke="#9bb6dc" stroke-width="0.8"/>
<path d="M146,10 L146,17.8 A7.8,7.8 0 0 0 152.4,5.5 z" fill="#7fc77f" opacity="0.7"/>
<circle cx="146" cy="10" r="5.4" fill="none" stroke="#4a78d0" stroke-width="0.9" opacity="0.8"/>
<circle cx="146" cy="10" r="3.2" fill="none" stroke="#3a68c8" stroke-width="0.9" opacity="0.85"/>
<circle cx="146" cy="9.8" r="1.5" fill="#2450c0"/>
<path d="M146.4,10 V17.6" stroke="#1a9a1a" stroke-width="1.1"/>
<polygon points="165.4,9.5 180,9 176,17.2 172.4,17.6" fill="url(#gFace)" stroke="#c89a1a" stroke-width="0.7"/>
<ellipse cx="173" cy="7.6" rx="8" ry="2.6" fill="url(#gHat)" stroke="#3a7fb8" stroke-width="0.6"/>
<path d="M168.6,7 c0.4,-6 8.6,-6 9,0 z" fill="url(#gHat)" stroke="#3a7fb8" stroke-width="0.6"/>
<circle cx="177.4" cy="13.8" r="4.2" fill="#e0240c" stroke="#b81a08" stroke-width="0.5"/>
<rect x="175.6" y="12" width="3.6" height="3.6" fill="#fff"/>
<text x="185.8" y="13.1" font-size="11.7" fill="#000" font-family="Liberation Sans, Noto Sans CJK SC, sans-serif" stroke="#000" stroke-width="0.08">自动交易</text>
<path d="M259.5,4.5 V18 M257,15.5 H270" stroke="#555" stroke-width="1.2" fill="none"/>
<polygon points="259.5,3.5 257.7,6.3 261.3,6.3" fill="#555"/>
<polygon points="271.2,15.5 268.4,13.7 268.4,17.3" fill="#555"/>
<path d="M265.5,5.5 V13.8 M265.5,6.5 H268 M263,12.5 H265.5" stroke="#0a8a0a" stroke-width="1.3" fill="none"/>
<path d="M287.5,4.5 V18 M285,15.5 H298" stroke="#555" stroke-width="1.2" fill="none"/>
<polygon points="287.5,3.5 285.7,6.3 289.3,6.3" fill="#555"/>
<polygon points="299.2,15.5 296.4,13.7 296.4,17.3" fill="#555"/>
<path d="M293.5,2.2 V13.9" stroke="#0a8a0a" stroke-width="1.2"/>
<rect x="291.3" y="4.5" width="4.6" height="7.2" fill="url(#gGreen)" stroke="#0a9a0a" stroke-width="0.9"/>
<path d="M315.5,4.5 V18 M313,15.5 H326" stroke="#555" stroke-width="1.2" fill="none"/>
<polygon points="315.5,3.5 313.7,6.3 317.3,6.3" fill="#555"/>
<polygon points="327.2,15.5 324.4,13.7 324.4,17.3" fill="#555"/>
<path d="M314.3,12.6 C317,10.5 318.5,7.2 320.4,7.3 C322.3,7.4 323.5,10.6 325.8,11" stroke="#1a8a1a" stroke-width="1.2" fill="none"/>
<path d="M354.8,12.3 L360,16.6" stroke="#9a6c10" stroke-width="3.6" stroke-linecap="round"/>
<path d="M354.8,12.3 L360,16.6" stroke="#ecc832" stroke-width="2.2" stroke-linecap="round"/>
<circle cx="351" cy="7.9" r="5.6" fill="url(#gLens)" stroke="#2a6cc0" stroke-width="1.1"/>
<path d="M347.7,7.9 h6.6 M351,4.6 v6.6" stroke="#2e7fa6" stroke-width="1.6"/>
<path d="M382.8,12.3 L388,16.6" stroke="#9a6c10" stroke-width="3.6" stroke-linecap="round"/>
<path d="M382.8,12.3 L388,16.6" stroke="#ecc832" stroke-width="2.2" stroke-linecap="round"/>
<circle cx="379" cy="7.9" r="5.6" fill="url(#gLens)" stroke="#2a6cc0" stroke-width="1.1"/>
<path d="M375.7,7.9 h6.6" stroke="#2e7fa6" stroke-width="1.6"/>
<rect x="401" y="2" width="8" height="8" fill="#2f9e1e"/>
<path d="M402,9.4 v-4.8 h6 v4.8 h-1.3 v-1.2 h-3.4 v1.2 z" fill="#fff"/>
<rect x="403.2" y="6.2" width="3.6" height="0.9" fill="#b9e6a8"/>
<rect x="402.2" y="3.2" width="1" height="1" fill="#b9e6a8"/>
<rect x="409" y="2" width="8" height="8" fill="#1c4fd2"/>
<path d="M410,9.4 v-4.8 h6 v4.8 h-1.3 v-1.2 h-3.4 v1.2 z" fill="#fff"/>
<rect x="411.2" y="6.2" width="3.6" height="0.9" fill="#b4c8f8"/>
<rect x="410.2" y="3.2" width="1" height="1" fill="#b4c8f8"/>
<rect x="401" y="10" width="8" height="8" fill="#1c4fd2"/>
<path d="M402,17.4 v-4.8 h6 v4.8 h-1.3 v-1.2 h-3.4 v1.2 z" fill="#fff"/>
<rect x="403.2" y="14.2" width="3.6" height="0.9" fill="#b4c8f8"/>
<rect x="402.2" y="11.2" width="1" height="1" fill="#b4c8f8"/>
<rect x="409" y="10" width="8" height="8" fill="#2f9e1e"/>
<path d="M410,17.4 v-4.8 h6 v4.8 h-1.3 v-1.2 h-3.4 v1.2 z" fill="#fff"/>
<rect x="411.2" y="14.2" width="3.6" height="0.9" fill="#b9e6a8"/>
<rect x="410.2" y="11.2" width="1" height="1" fill="#b9e6a8"/>
<path d="M439.5,4.5 V18 M437,15.5 H450" stroke="#555" stroke-width="1.2" fill="none"/>
<polygon points="439.5,3.5 437.7,6.3 441.3,6.3" fill="#555"/>
<polygon points="451.2,15.5 448.4,13.7 448.4,17.3" fill="#555"/>
<polygon points="444.5,6.4 444.5,12.8 448.2,9.6" fill="#8be88b" stroke="#0a9a0a" stroke-width="1"/>
<path d="M467.5,4.5 V18 M465,15.5 H478" stroke="#555" stroke-width="1.2" fill="none"/>
<polygon points="467.5,3.5 465.7,6.3 469.3,6.3" fill="#555"/>
<polygon points="479.2,15.5 476.4,13.7 476.4,17.3" fill="#555"/>
<path d="M473.5,4 V14" stroke="#1a6a9a" stroke-width="1.2"/>
<path d="M474.6,9.5 H479 M474.6,9.5 l2.4,-2.2 M474.6,9.5 l2.4,2.2" stroke="#d04000" stroke-width="1.2" fill="none"/>
<path d="M498.6,2.8 h7.5 l3.5,3.5 v9.3 h-11 z" fill="#fdfdfd" stroke="#7c7c7c" stroke-width="1"/>
<path d="M506.1,2.8 v3.5 h3.5" fill="#e4e4e4" stroke="#8a8a8a" stroke-width="0.8"/>
<text x="500.6" y="12.4" font-size="10" font-style="italic" fill="#5a4a2a" font-family="Liberation Serif, serif">f</text>
<polygon points="506.4,8.6 510.0,8.6 510.0,12.399999999999999 513.8,12.399999999999999 513.8,16.0 510.0,16.0 510.0,19.799999999999997 506.4,19.799999999999997 506.4,16.0 502.59999999999997,16.0 502.59999999999997,12.399999999999999 506.4,12.399999999999999" fill="url(#gGreen)" stroke="#0f8f0f" stroke-width="1"/>
<polygon points="519.6,9 525.6,9 522.6,12.2" fill="#000"/>
<circle cx="544" cy="10" r="6.9" fill="#fff" stroke="url(#gBlue)" stroke-width="2.2"/>
<circle cx="544" cy="10" r="5.6" fill="none" stroke="#333" stroke-width="0.9" stroke-dasharray="0.5 2.43"/>
<path d="M544,6.4 V10 H547" stroke="#111" stroke-width="1.2" fill="none"/>
<polygon points="558.6,9 564.6,9 561.6,12.2" fill="#000"/>
<rect x="575.5" y="3.3" width="15" height="13.4" fill="#fff" stroke="#3a7cd0" stroke-width="1"/>
<rect x="576" y="3.8" width="14" height="2.2" fill="#5a9ae8"/>
<rect x="576" y="10.4" width="14" height="1.2" fill="#3a7cd0"/>
<path d="M577.5,9.2 l2,0 l2,-1.6 l2,0.8 l2,0 l2.4,-1.2" stroke="#a02000" stroke-width="1.1" fill="none"/>
<path d="M577.8,14.6 l2,-1 l1.8,0.8 l2.6,-2.2 l1.6,0.6 l1.6,1.8" stroke="#0a8a1a" stroke-width="1.1" fill="none"/>
<polygon points="597.6,9 603.6,9 600.6,12.2" fill="#000"/>
<polygon points="627.2,2.8 627.2,13.9 629.8,11.7 632.3,17 634,16.2 631.5,10.9 635.2,10.6" fill="#4a4a4a"/>
<path d="M659.5,3 V9 M659.5,12 V18 M652,10.5 H658 M661,10.5 H667" stroke="#4a4a4a" stroke-width="1.2" fill="none"/>
<rect x="659.1" y="10.1" width="0.8" height="0.8" fill="#4a4a4a"/>
<path d="M693.5,4 V17" stroke="#4a4a4a" stroke-width="1.2"/>
<path d="M716,10.5 H728" stroke="#4a4a4a" stroke-width="1.3"/>
<path d="M744,17 L756.2,4.4" stroke="#4a4a4a" stroke-width="1.1"/>
<path d="M770,12 L777.8,4 M770.6,16.4 L782,4.6 M775,17 L783.4,8.4" stroke="#4a4a4a" stroke-width="1" fill="none"/>
<path d="M772.6,9.2 l0.8,5.4 M775.2,6.8 l0.8,6 M778,4.6 l0.6,7 M780.8,2.4 l0.8,6.4" stroke="#4a4a4a" stroke-width="0.9" fill="none"/>
<text x="780.6" y="19" font-size="7" font-weight="bold" fill="#333" font-family="Liberation Sans, sans-serif">E</text>
<path d="M799,3.5 H812" stroke="#4a4a4a" stroke-width="1" stroke-dasharray="1 1" shape-rendering="crispEdges"/>
<path d="M799,6.5 H812" stroke="#4a4a4a" stroke-width="1" stroke-dasharray="1 1" shape-rendering="crispEdges"/>
<path d="M799,10.5 H812" stroke="#4a4a4a" stroke-width="1" stroke-dasharray="1 1" shape-rendering="crispEdges"/>
<path d="M799,14.5 H808" stroke="#4a4a4a" stroke-width="1" stroke-dasharray="1 1" shape-rendering="crispEdges"/>
<text x="808.4" y="19" font-size="7" font-weight="bold" fill="#333" font-family="Liberation Sans, sans-serif">F</text>
<text x="829.3" y="14.9" font-size="12.4" fill="#505050" font-family="Liberation Sans, sans-serif">A</text>
<rect x="856.5" y="4.5" width="11" height="12" fill="none" stroke="#4a4a4a" stroke-width="1" stroke-dasharray="1 1" shape-rendering="crispEdges"/>
<rect x="855" y="3" width="2" height="1.4" fill="#4a4a4a"/>
<text x="858" y="14.6" font-size="11" font-weight="bold" fill="#4a4a4a" font-family="Liberation Sans, sans-serif">T</text>
<polygon points="886.2,4.2 889.6,7.4 886.2,8.8 882.8,7.4" fill="#4a4a4a"/>
<polygon points="893.4,17 896.8,13.6 893.4,12.2 890,13.6" fill="#4a4a4a"/>
<path d="M884.8,12 L887.4,13.6 L892,8.4" stroke="#4a4a4a" stroke-width="1.3" fill="none"/>
<polygon points="903.6,9 909.6,9 906.6,12.2" fill="#000"/>
<text x="930.3" y="14" font-size="9.7" fill="#404040" font-family="Liberation Sans, sans-serif">M1</text>
<text x="958.2" y="14" font-size="9.7" fill="#404040" font-family="Liberation Sans, sans-serif">M5</text>
<text x="984.2" y="14" font-size="9.7" fill="#404040" font-family="Liberation Sans, sans-serif">M15</text>
<text x="1012" y="14" font-size="9.7" fill="#404040" font-family="Liberation Sans, sans-serif">M30</text>
<text x="1043.5" y="14" font-size="9.7" fill="#404040" font-family="Liberation Sans, sans-serif">H1</text>
<text x="1070" y="14" font-size="9.7" fill="#404040" font-family="Liberation Sans, sans-serif">H4</text>
<text x="1099.2" y="14" font-size="9.7" fill="#404040" font-family="Liberation Sans, sans-serif">D1</text>
<text x="1126.6" y="14" font-size="9.7" fill="#404040" font-family="Liberation Sans, sans-serif">W1</text>
<text x="1153.3" y="14" font-size="9.7" fill="#404040" font-family="Liberation Sans, sans-serif">MN</text>
<path d="M1644.6,10.2 L1639.2,14.8" stroke="#2a5ad0" stroke-width="2.4" stroke-linecap="round"/>
<circle cx="1647.2" cy="7.3" r="3.7" fill="#fdfdff" stroke="#3a66d8" stroke-width="1.2"/>
<path d="M1664,13 c0,-3.4 3,-5.2 6.2,-5.2 c3.2,0 5.8,1.8 5.8,5 c0,2.6 -2.4,4 -5.2,4 l-1.2,0 l-2.6,2 l0.4,-2.4 c-2,-0.6 -3.4,-1.6 -3.4,-3.4 z" fill="#dedede" stroke="#a8a8a8" stroke-width="0.8"/>
<circle cx="1677.5" cy="7.3" r="8.1" fill="url(#gRed)"/>
<text x="1674" y="12" font-size="12.5" fill="#fff" stroke="#fff" stroke-width="0.5" font-family="Liberation Sans, sans-serif">1</text>
</svg>
</body></html>
